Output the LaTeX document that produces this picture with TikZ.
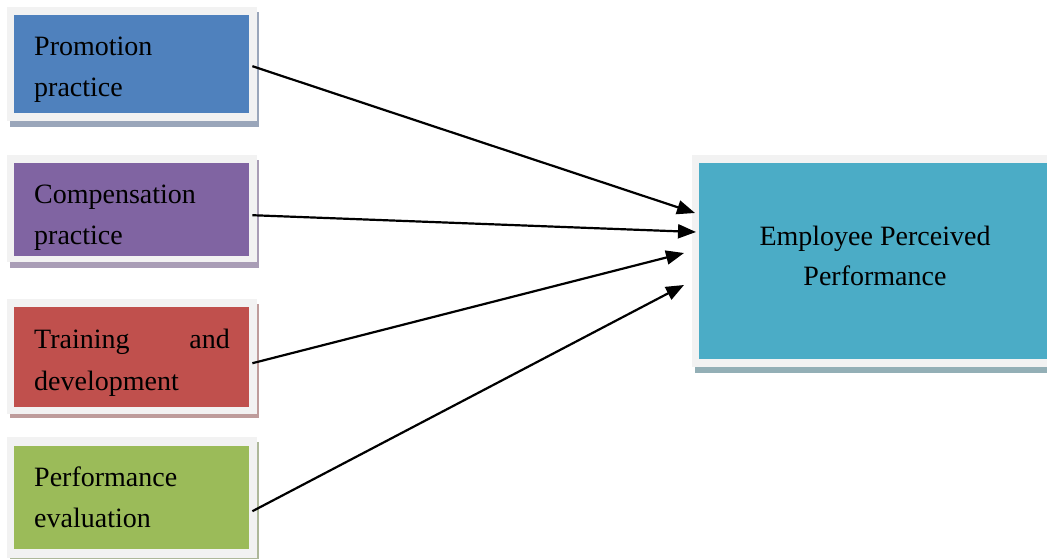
\documentclass[tikz,border=0pt]{standalone}
\usepackage{fontspec}
\setmainfont{Liberation Serif}
\usetikzlibrary{arrows.meta}
\definecolor{frameC}{HTML}{F2F2F2}
\definecolor{promC}{HTML}{4F81BD}
\definecolor{compC}{HTML}{8064A2}
\definecolor{trainC}{HTML}{C0504D}
\definecolor{perfC}{HTML}{9BBB59}
\definecolor{eppC}{HTML}{4BACC6}
\definecolor{promS}{HTML}{9AA6BA}
\definecolor{compS}{HTML}{A99DB6}
\definecolor{trainS}{HTML}{BE9C9B}
\definecolor{perfS}{HTML}{AEB89A}
\definecolor{eppS}{HTML}{93AFB6}
\begin{document}
\begin{tikzpicture}[x=1pt,y=-1pt,
  colbox/.style={draw=none,inner sep=0pt,minimum width=235pt,anchor=north west},
  lbl/.style={inner sep=0pt,anchor=base west,font=\fontsize{28}{41}\selectfont},
  clbl/.style={inner sep=0pt,anchor=base,font=\fontsize{28}{41}\selectfont},
  conn/.style={line width=2.2pt,-{Triangle[length=18pt,width=14pt]}}]
\useasboundingbox (0,0) rectangle (1047,558);
% shadows and frames
\fill[promS] (9.5,12) rectangle (259,127);
\fill[frameC] (7,7) rectangle (256.5,121);
\fill[compS] (9.5,160) rectangle (259,268);
\fill[frameC] (7,155) rectangle (256.5,262);
\fill[trainS] (9.5,304) rectangle (259,418);
\fill[frameC] (7,299) rectangle (256.5,414);
\fill[perfS] (9.5,442) rectangle (259,562);
\fill[frameC] (7,437) rectangle (256.5,558);
\fill[eppS] (694.5,160) rectangle (1060,373);
\fill[frameC] (692,155) rectangle (1060,367);
% coloured boxes
\node[colbox,fill=promC,minimum height=98pt] (prom) at (14,15) {};
\node[colbox,fill=compC,minimum height=93pt] (comp) at (14,163) {};
\node[colbox,fill=trainC,minimum height=100pt] (train) at (14,307) {};
\node[colbox,fill=perfC,minimum height=103pt] (perf) at (14,446) {};
\node[draw=none,inner sep=0pt,minimum width=360pt,minimum height=196pt,anchor=north west,fill=eppC] (epp) at (699,163) {};
% texts
\node[lbl] (t1a) at (34,55) {Promotion};
\node[lbl] (t1b) at (34,96) {practice};
\begin{scope}
\clip (14,163) rectangle (249,256);
\node[lbl] (t2a) at (34,203) {Compensation};
\node[lbl] (t2b) at (34,244) {practice};
\end{scope}
\node[lbl] (t3a) at (34,348) {Training};
\node[lbl,anchor=base east] (t3c) at (230,348) {and};
\node[lbl] (t3b) at (34,390) {development};
\node[lbl] (t4a) at (34,486) {Performance};
\node[lbl] (t4b) at (34,527) {evaluation};
\node[clbl] (t5a) at (875,245) {Employee Perceived};
\node[clbl] (t5b) at (875,285) {Performance};
% connectors
\draw[conn] ([shift={(3,2)}]prom.east) -- ([shift={(-4,50)}]epp.north west);
\draw[conn] ([shift={(3,5.5)}]comp.east) -- ([shift={(-3,69)}]epp.north west);
\draw[conn] ([shift={(3,6)}]train.east) -- ([shift={(-15,90)}]epp.north west);
\draw[conn] ([shift={(3,13.5)}]perf.east) -- ([shift={(-15,122)}]epp.north west);
\end{tikzpicture}
\end{document}
